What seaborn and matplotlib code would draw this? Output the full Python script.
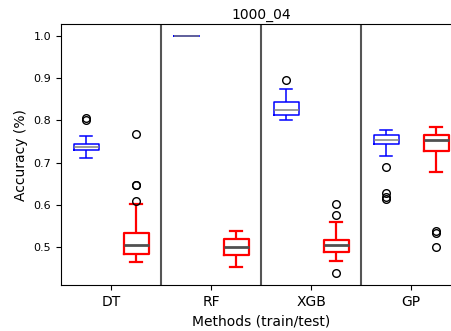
import numpy as np
import pandas as pd
import matplotlib
matplotlib.use("Agg")
import matplotlib.pyplot as plt
import seaborn as sns

title = "1000_04"
methods = ["DT", "RF", "XGB", "GP"]
xlabel = "Methods (train/test)"
ylabel = "Accuracy (%)"

dt_train = [0.711, 0.722, 0.727, 0.730, 0.733, 0.736, 0.738, 0.740, 0.743, 0.745, 0.764, 0.801, 0.805]
dt_test = [0.465, 0.470, 0.474, 0.478, 0.481, 0.483, 0.488, 0.493, 0.497, 0.501, 0.504,
           0.510, 0.517, 0.523, 0.528, 0.533, 0.601, 0.610, 0.646, 0.648, 0.767]
rf_train = [1.0, 1.0, 1.0, 1.0, 1.0, 1.0, 1.0, 1.0, 1.0]
rf_test = [0.453, 0.470, 0.481, 0.490, 0.500, 0.508, 0.518, 0.528, 0.538]
xgb_train = [0.802, 0.806, 0.810, 0.814, 0.818, 0.821, 0.824, 0.830, 0.838, 0.845, 0.858, 0.875, 0.895]
xgb_test = [0.437, 0.467, 0.476, 0.482, 0.487, 0.492, 0.496, 0.500, 0.504, 0.508, 0.511,
            0.514, 0.517, 0.540, 0.559, 0.575, 0.601]
gp_train = [0.613, 0.619, 0.629, 0.690, 0.715, 0.744, 0.746, 0.748, 0.750, 0.752, 0.754,
            0.757, 0.759, 0.762, 0.764, 0.766, 0.769, 0.771, 0.773, 0.776, 0.778]
gp_test = [0.500, 0.532, 0.538, 0.678, 0.728, 0.735, 0.742, 0.748, 0.753, 0.757, 0.760,
           0.763, 0.766, 0.772, 0.777, 0.781, 0.785]

train_sets = [dt_train, rf_train, xgb_train, gp_train]
test_sets = [dt_test, rf_test, xgb_test, gp_test]

rows = []
for i, (tr, te) in enumerate(zip(train_sets, test_sets)):
    for v in tr:
        rows.append({"pos": 2 * i + 1, "acc": v, "split": "train"})
    for v in te:
        rows.append({"pos": 2 * i + 2, "acc": v, "split": "test"})
df = pd.DataFrame(rows)

fig = plt.figure(figsize=(4.51, 3.31), dpi=100)
ax = fig.add_axes([0.1353, 0.138, 0.887, 0.7885])

flier = dict(marker="o", markerfacecolor="none", markeredgecolor="black",
             markersize=5.5, markeredgewidth=1.0)

for split, col, lw, mcol, mlw in [("train", "blue", 1.1, "gray", 1.1),
                                  ("test", "red", 1.6, "#505050", 2.0)]:
    sub = df[df["split"] == split]
    sns.boxplot(data=sub, x="pos", y="acc", native_scale=True, fill=False,
                color=col, width=0.25, linewidth=lw, fliersize=5.5,
                boxprops=dict(color=col, linewidth=lw),
                whiskerprops=dict(color=col, linewidth=lw),
                capprops=dict(color=col, linewidth=lw),
                medianprops=dict(color=mcol, linewidth=mlw),
                flierprops=flier, capwidths=0.25, ax=ax)

for sep in [2.5, 4.5, 6.5]:
    ax.axvline(sep, color="#555555", linewidth=1.5)

ax.set_xlim(0.5, 8.5)
ax.set_xticks([1.5, 3.5, 5.5, 7.5])
ax.set_xticklabels(methods)
ax.tick_params(axis="x", labelsize=10)
ax.tick_params(axis="y", labelsize=8)
ax.set_xlabel(xlabel, fontsize=10)
ax.set_ylabel(ylabel, fontsize=10)
ax.set_title(title, fontsize=10, pad=4)

fig.savefig("out.png", dpi=100)
